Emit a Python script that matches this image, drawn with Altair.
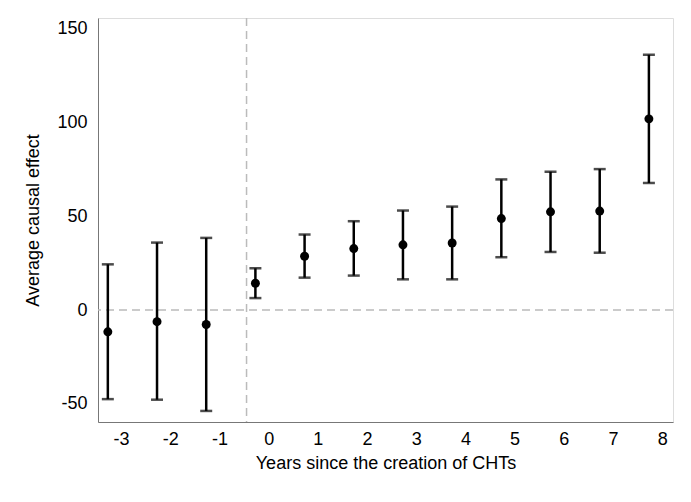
import altair as alt
import pandas as pd

years = [-3, -2, -1, 0, 1, 2, 3, 4, 5, 6, 7, 8]
estimate = [-11.6, -6.2, -7.7, 14.3, 28.7, 32.8, 34.8, 35.8, 48.8, 52.4, 52.8, 102.0]
upper = [24.4, 36.0, 38.5, 22.3, 40.3, 47.4, 53.1, 55.2, 69.7, 73.8, 75.2, 136.2]
lower = [-47.5, -47.8, -53.8, 6.4, 17.3, 18.4, 16.4, 16.4, 28.2, 31.0, 30.6, 67.8]
y_ticks = [-50, 0, 50, 100, 150]
ref_y = [0]
ref_x = [-0.45]

df = pd.DataFrame({"year": years, "est": estimate, "hi": upper, "lo": lower})

FONT = "Liberation Sans"
LBL = "datum.value < 0 ? '-' + abs(datum.value) : '' + datum.value"
xscale = alt.Scale(domain=[-3.47, 8.22], nice=False, zero=False)
yscale = alt.Scale(domain=[-59.7, 155.8], nice=False, zero=False)

xaxis = alt.Axis(values=years, labelExpr=LBL, ticks=False, grid=False, domainColor="#777777",
                 labelFont=FONT, labelFontSize=18, labelColor="black", labelPadding=8,
                 titleFont=FONT, titleFontSize=18, titleFontWeight="normal", titleColor="black",
                 titlePadding=6, labelFlush=False)
yaxis = alt.Axis(values=y_ticks, labelExpr=LBL, ticks=False, grid=False, domainColor="#777777",
                 labelFont=FONT, labelFontSize=18, labelColor="black", labelPadding=11,
                 titleFont=FONT, titleFontSize=18, titleFontWeight="normal", titleColor="black",
                 titlePadding=14, labelFlush=False)

base = alt.Chart(df).transform_calculate(xpos="datum.year - 0.27")

hline = alt.Chart(pd.DataFrame({"y": ref_y})).mark_rule(
    color="#bbbbbb", strokeWidth=1.5, strokeDash=[8, 5]
).encode(y=alt.Y("y:Q", scale=yscale, axis=yaxis, title="Average causal effect"))

vline = alt.Chart(pd.DataFrame({"x": ref_x})).mark_rule(
    color="#bbbbbb", strokeWidth=1.5, strokeDash=[8, 5]
).encode(x=alt.X("x:Q", scale=xscale, axis=xaxis, title="Years since the creation of CHTs"))

bars = base.mark_rule(color="black", strokeWidth=2.5).encode(
    x=alt.X("xpos:Q", scale=xscale, axis=xaxis, title="Years since the creation of CHTs"),
    y=alt.Y("lo:Q", scale=yscale, axis=yaxis, title="Average causal effect"),
    y2="hi:Q",
)
cap_hi = base.mark_tick(color="black", orient="horizontal", size=12, thickness=2.5).encode(
    x=alt.X("xpos:Q", scale=xscale),
    y=alt.Y("hi:Q", scale=yscale),
)
cap_lo = base.mark_tick(color="black", orient="horizontal", size=12, thickness=2.5).encode(
    x=alt.X("xpos:Q", scale=xscale),
    y=alt.Y("lo:Q", scale=yscale),
)
pts = base.mark_circle(color="black", opacity=1, size=80).encode(
    x=alt.X("xpos:Q", scale=xscale),
    y=alt.Y("est:Q", scale=yscale),
)

chart = alt.layer(hline, vline, bars, cap_hi, cap_lo, pts).properties(
    width=575, height=404,
    autosize=alt.AutoSizeParams(type="none"),
    padding={"left": 98, "top": 18, "right": 18, "bottom": 80},
).configure_view(stroke=None).configure(background="white")

chart.save("out.html", embed_options={"renderer": "svg", "actions": False})
